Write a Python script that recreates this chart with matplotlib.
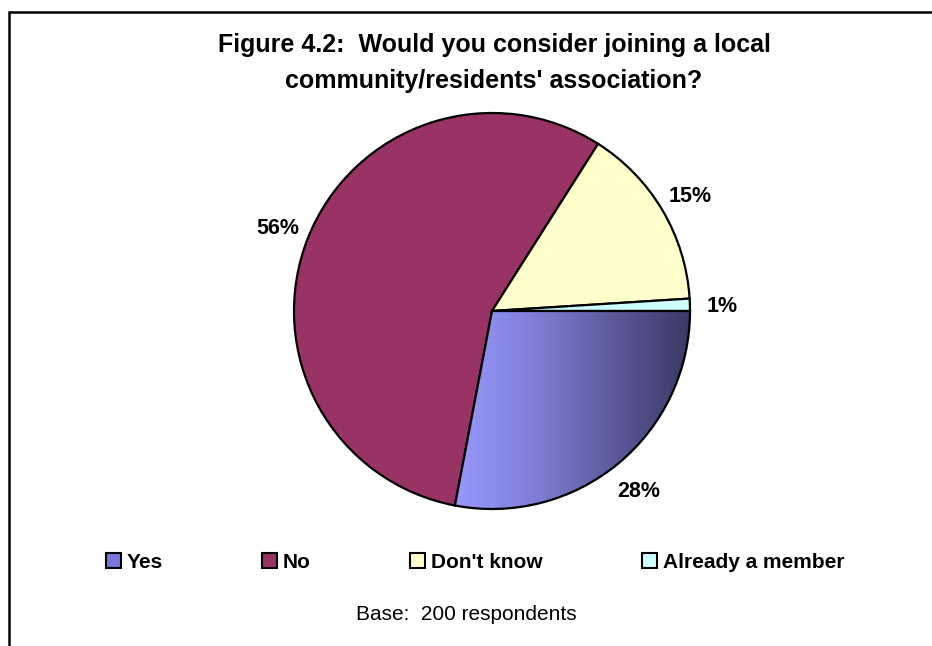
import numpy as np
import matplotlib
matplotlib.use("Agg")
import matplotlib.pyplot as plt
from matplotlib.patches import Rectangle, Patch
from matplotlib.colors import LinearSegmentedColormap

plt.rcParams['font.family'] = ['Liberation Sans', 'DejaVu Sans']

categories = ["Yes", "No", "Don't know", "Already a member"]
values = [28, 56, 15, 1]
colors = ["#9999FF", "#993366", "#FFFFCC", "#CCFFFF"]
legend_colors = ["#7777DD", "#993366", "#FFFFCC", "#CCFFFF"]
title = "Figure 4.2:  Would you consider joining a local\ncommunity/residents' association?"
base_note = "Base:  200 respondents"

W, H = 932, 646
fig = plt.figure(figsize=(W / 100, H / 100), dpi=100)
ax = fig.add_axes([0, 0, 1, 1])

cx, cy, r = 492, H - 311, 198
wedges, texts, autotexts = ax.pie(
    values, colors=colors, startangle=0, counterclock=False,
    center=(cx, cy), radius=r, autopct=lambda p: f"{p:.0f}%", pctdistance=1.165,
    wedgeprops=dict(edgecolor='black', linewidth=1.6),
    textprops=dict(fontsize=15.5, fontweight='bold', color='black'))
for t in autotexts:
    t.set_va('center_baseline')
ax.set_xlim(0, W)
ax.set_ylim(0, H)
ax.set_aspect('equal')
ax.axis('off')

# frame (extends past right and bottom edges)
ax.add_patch(Rectangle((8.7, -30), W + 40, H - 11.5 + 30, fill=False, lw=1.8,
                       ec='black', clip_on=False))

# gradient for the "Yes" wedge
cmap = LinearSegmentedColormap.from_list("g", ["#9999FF", "#8080D8", "#5C5C9C", "#3A3A66"])
grad = np.linspace(0, 1, 256).reshape(1, -1)
im = ax.imshow(grad, cmap=cmap, extent=(cx - 40, cx + r, cy - r, cy + 5),
               aspect='auto', zorder=wedges[0].get_zorder() + 0.1)
im.set_clip_path(wedges[0])
wedges[0].set_facecolor('none')
wedges[0].set_zorder(im.get_zorder() + 0.1)
ax.set_xlim(0, W)
ax.set_ylim(0, H)

ax.text(W / 2 + 28, H - 63, title, ha='center', va='center', fontsize=18,
        fontweight='bold', linespacing=1.6)

handles = [Patch(facecolor=c, edgecolor='black', lw=1.5) for c in legend_colors]
leg = fig.legend(handles, categories, loc='center', bbox_to_anchor=(475 / W, 1 - 562 / H),
                 ncol=4, frameon=False, handlelength=0.72, handleheight=0.7,
                 handletextpad=0.25, columnspacing=4.8,
                 prop=dict(weight='bold', size=15))

ax.text(466, H - 614, base_note, ha='center', va='center', fontsize=15)

fig.savefig("out.png", dpi=100)
